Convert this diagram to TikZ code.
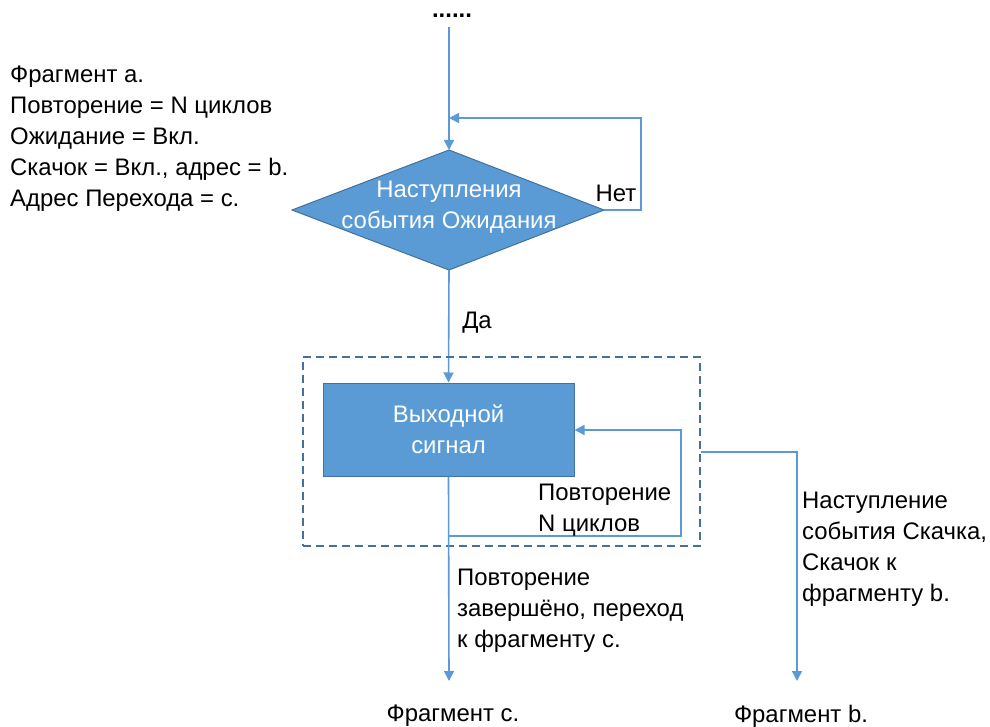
\documentclass[tikz,border=0pt]{standalone}
\usepackage{fontspec}
\setmainfont{Liberation Sans}
\usetikzlibrary{shapes.geometric,arrows.meta}
\definecolor{bfill}{HTML}{5B9BD5}
\definecolor{bdark}{HTML}{41719C}
\definecolor{bline}{HTML}{5B9BD5}
\begin{document}
\begin{tikzpicture}[x=1bp,y=-1bp,
  every node/.style={font=\fontsize{24}{31}\selectfont},
  conn/.style={draw=bline,line width=1.6bp},
  arr/.style={conn,-{Triangle[length=10bp,width=10bp]}},
  lbl/.style={inner sep=0pt,align=left,anchor=north west},
  boxfill/.style={fill=bfill,draw=bdark,line width=1bp,text=white}]
\useasboundingbox (0,0) rectangle (990,727);
% diamond
\path[boxfill] (449,150) -- (604,210) -- (449,270) -- (292,210) -- cycle;
\node[text=white,align=center,inner sep=0pt] (dia) at (449,207) {Наступления\\события Ожидания};
\coordinate (dtop) at (449,150);
\coordinate (dright) at (604,210);
\coordinate (dbot) at (449,270);
% top
\node[inner sep=0pt,anchor=base] (dots) at (452,18) {\textbf{......}};
\coordinate (start) at (449,27);
\draw[arr] (start) -- (dtop);
\coordinate (loopin) at (449,118);
\draw[arr] (dright) -- (641,210) -- (641,118) -- (loopin);
\node[inner sep=0pt] (net) at (616,193) {Нет};
% rectangle
\node[boxfill,minimum width=251bp,minimum height=93bp,align=center,inner sep=0pt] (out) at (448.5,429.5) {Выходной\\сигнал};
\draw[arr] (dbot) -- (out.north);
\node[inner sep=0pt] (da) at (477,323) {Да};
% dashed box
\node[draw=bdark,dashed,dash pattern=on 8bp off 5bp,line width=1.6bp,minimum width=397bp,minimum height=189bp,inner sep=0pt] (grp) at (501.5,451.5) {};
% repeat loop
\coordinate (rep) at (449,536);
\draw[arr] (rep) -- (681,536) -- (681,430) -- (out.east|-0,430);
\node[lbl] (replbl) at (538,484) {Повторение\\N циклов};
% down to fragment c
\node[inner sep=0pt] (fc) at (453,716) {Фрагмент с.};
\coordinate (cend) at (449,681);
\draw[arr] (out.south) -- (cend);
\node[lbl] (clbl) at (457,569) {Повторение\\завершёно, переход\\к фрагменту с.};
% right branch
\node[inner sep=0pt] (fb) at (801,716) {Фрагмент b.};
\coordinate (bend) at (797,681);
\draw[arr] (grp.east|-0,452) -- (797,452) -- (bend);
\node[lbl] (blbl) at (802,492) {Наступление\\события Скачка,\\Скачок к\\фрагменту b.};
% left text
\node[lbl] (ltxt) at (10,66) {Фрагмент а.\\Повторение = N циклов\\Ожидание = Вкл.\\Скачок = Вкл., адрес = b.\\Адрес Перехода = с.};
\end{tikzpicture}
\end{document}
